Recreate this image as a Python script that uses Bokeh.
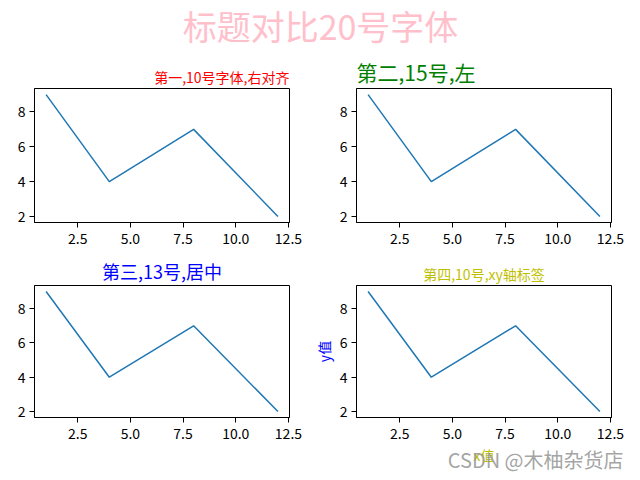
from bokeh.plotting import figure
from bokeh.layouts import column, row
from bokeh.models import Range1d, FixedTicker, Title
from bokeh.embed import file_html
from bokeh.resources import INLINE
from bokeh.core.properties import value

# ---- data ----
x_vals = [1, 4, 8, 12]
y_vals = [9, 4, 7, 2]
x_ticks = [2.5, 5.0, 7.5, 10.0, 12.5]
x_tick_labels = ["2.5", "5.0", "7.5", "10.0", "12.5"]
y_ticks = [2, 4, 6, 8]
y_tick_labels = ["2", "4", "6", "8"]
suptitle = "标题对比20号字体"
titles = ["第一,10号字体,右对齐", "第二,15号,左", "第三,13号,居中", "第四,10号,xy轴标签"]
title_colors = ["red", "green", "blue", "#bfbf00"]
title_sizes = ["14px", "21px", "18px", "14px"]
title_aligns = ["right", "left", "center", "center"]
xlabel4 = "x值"
ylabel4 = "y值"
watermark = "CSDN @木柚杂货店"

FONT = "Noto Sans CJK SC"
LINE_COLOR = "#1f77b4"


def make_panel(i, width, height, bt, bb, bl, br):
    p = figure(width=width, height=height,
               x_range=Range1d(0.45, 12.55), y_range=Range1d(1.65, 9.35),
               output_backend="svg", toolbar_location=None,
               min_border_top=bt, min_border_bottom=bb,
               min_border_left=bl, min_border_right=br)
    p.line(x_vals, y_vals, line_color=LINE_COLOR, line_width=1.5)
    p.grid.visible = False
    p.outline_line_color = "black"
    p.outline_line_alpha = 1.0
    p.outline_line_width = 1
    p.background_fill_color = "white"
    p.border_fill_color = "white"

    p.title.text = titles[i]
    p.title.align = title_aligns[i]
    p.title.text_color = title_colors[i]
    p.title.text_font_size = title_sizes[i]
    p.title.text_font = FONT
    p.title.text_font_style = "normal"
    p.title.standoff = 4

    p.xaxis.ticker = FixedTicker(ticks=x_ticks)
    p.xaxis.major_label_overrides = dict(zip(x_ticks, x_tick_labels))
    p.yaxis.ticker = FixedTicker(ticks=y_ticks)
    p.yaxis.major_label_overrides = dict(zip(y_ticks, y_tick_labels))
    for ax in (p.xaxis, p.yaxis):
        ax.axis_line_color = "black"
        ax.major_tick_line_color = "black"
        ax.major_tick_out = 5
        ax.major_tick_in = 0
        ax.minor_tick_line_color = None
        ax.major_label_standoff = 4
        ax.major_label_text_font = FONT
        ax.major_label_text_font_size = "14px"
        ax.major_label_text_color = "black"
    p.xaxis.major_label_standoff = 5
    return p


# suptitle strip
top = figure(width=640, height=50, x_range=Range1d(0, 1), y_range=Range1d(0, 50),
             output_backend="svg", toolbar_location=None,
             x_axis_type=None, y_axis_type=None,
             min_border=0, min_border_left=0, min_border_right=0,
             min_border_top=0, min_border_bottom=0)
top.outline_line_color = None
top.grid.visible = False
top.text(x=[0.5], y=[25], text=[suptitle], text_align="center", text_baseline="middle",
         text_color="pink", text_font_size="34px", text_font=value(FONT))

p1 = make_panel(0, 320, 200, 38, 28, 34, 31)
p2 = make_panel(1, 320, 200, 38, 28, 36, 29)
p3 = make_panel(2, 310, 230, 35, 63, 34, 21)
p4 = make_panel(3, 330, 230, 35, 63, 46, 29)

p4.xaxis.axis_label = xlabel4
p4.xaxis.axis_label_text_color = "#bfbf00"
p4.yaxis.axis_label = ylabel4
p4.yaxis.axis_label_text_color = "blue"
for ax in (p4.xaxis, p4.yaxis):
    ax.axis_label_text_font = FONT
    ax.axis_label_text_font_size = "14px"
    ax.axis_label_text_font_style = "normal"
    ax.axis_label_standoff = 3

wm = Title(text=watermark, align="right", vertical_align="top",
           text_color="#999999", text_alpha=0.9,
           text_font=FONT, text_font_size="20px", text_font_style="normal",
           standoff=-45, offset=-12)
p4.add_layout(wm, "below")

layout = column(top, row(p1, p2, spacing=0), row(p3, p4, spacing=0), spacing=0)

open("out.html", "w").write(file_html(layout, INLINE))
